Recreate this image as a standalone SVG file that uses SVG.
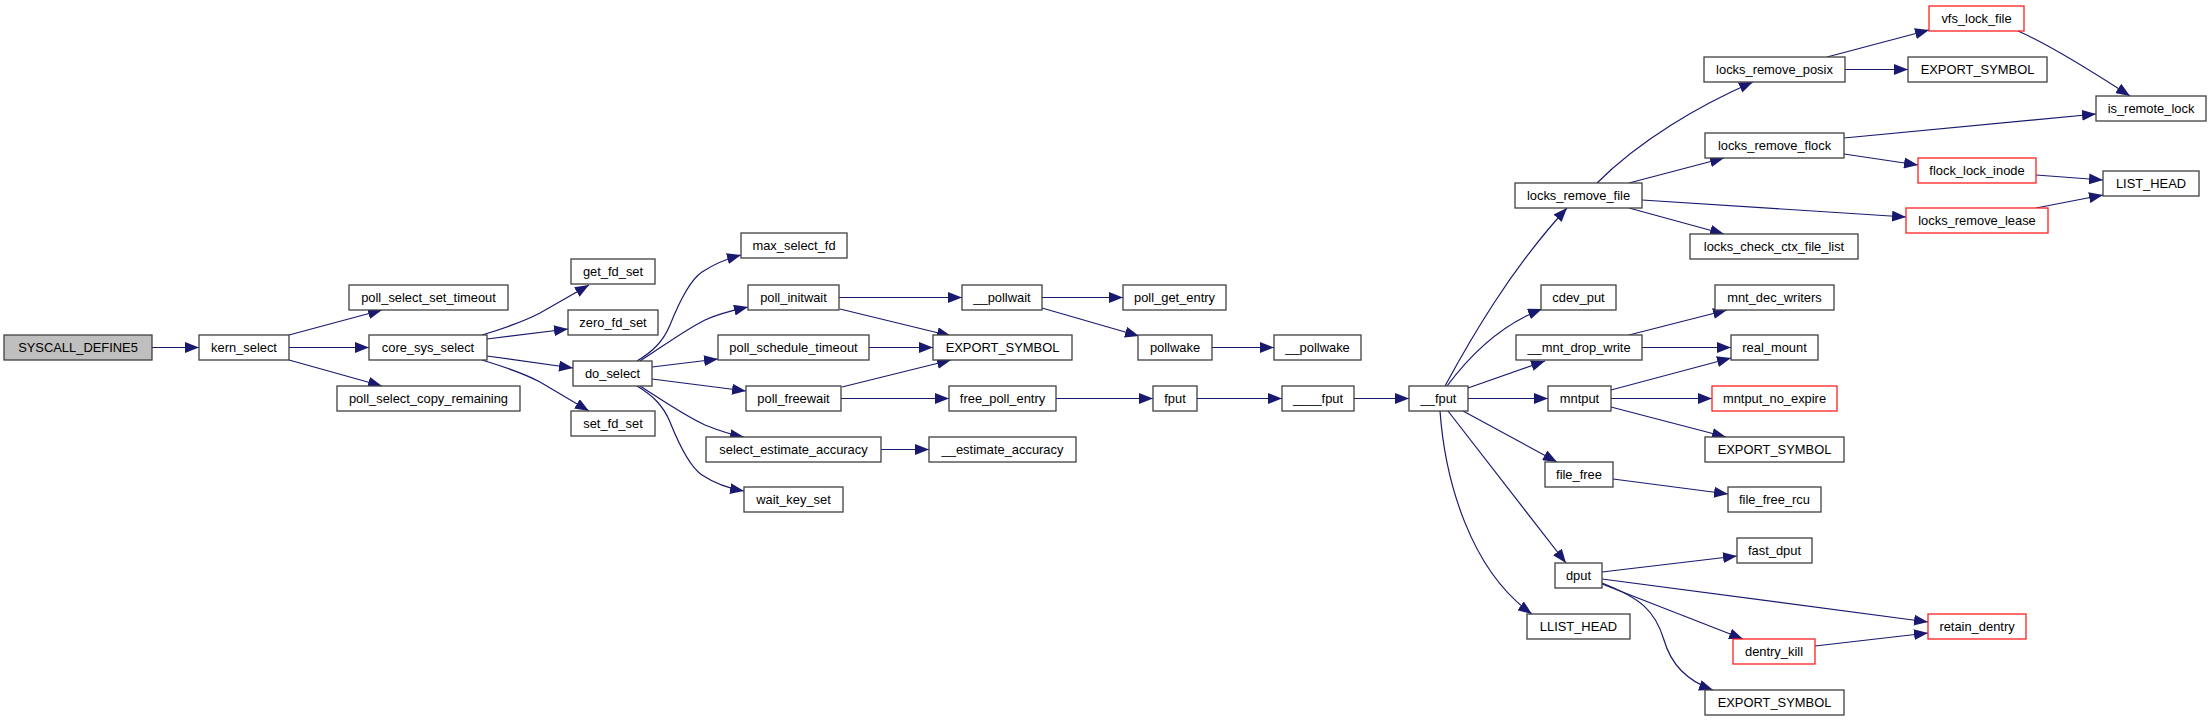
<svg xmlns="http://www.w3.org/2000/svg" width="2212" height="721" viewBox="0 0 2212 721">
<style>
.n rect{fill:#fff;stroke:#404040;stroke-width:1.3}
.n.g rect{fill:#bfbfbf}
.n.r rect{stroke:#ff2020}
.n text{font-family:"Liberation Sans",Arial,sans-serif;font-size:12.9px;text-anchor:middle;fill:#000}
#edges path{fill:none;stroke:#191970;stroke-width:1.2;marker-end:url(#a)}
</style>
<defs>
<marker id="a" markerUnits="userSpaceOnUse" markerWidth="14" markerHeight="11" viewBox="0 0 14 11" refX="14" refY="5.5" orient="auto">
<path d="M0,0 L14,5.5 L0,11 z" fill="#191970"/>
</marker>
</defs>
<rect width="2212" height="721" fill="#fff"/>
<g id="edges">
<path d="M152,347.5 L199,347.5"/>
<path d="M289,335 L382,310"/>
<path d="M289,347.5 L369,347.5"/>
<path d="M289,360 L382,386"/>
<path d="M482,335 C505,328 523,322 540,313 L589,285"/>
<path d="M487,339 L568,329"/>
<path d="M487,356 L573,368"/>
<path d="M482,360 C505,367 523,373 540,382 L589,411"/>
<path d="M637,361 C652,352 663,342 670,325 C680,300 690,280 702,272 C714,264 726,259 741,255"/>
<path d="M640,361 C665,345 685,330 705,320 C720,313 735,310 748,307"/>
<path d="M652,367 L718,359"/>
<path d="M652,379 L746,391"/>
<path d="M640,386 C665,402 685,416 705,425 C720,431 732,435 744,437"/>
<path d="M637,386 C652,395 663,405 670,422 C680,447 690,467 702,475 C714,483 726,488 744,491"/>
<path d="M839,297.5 L962,297.5"/>
<path d="M840,309 L951,336"/>
<path d="M869,347.5 L933,347.5"/>
<path d="M842,387 L951,360"/>
<path d="M841,398.5 L949,398.5"/>
<path d="M881,449.5 L929,449.5"/>
<path d="M1042,297.5 L1123,297.5"/>
<path d="M1042,308 L1139,336"/>
<path d="M1212,347.5 L1274,347.5"/>
<path d="M1056,398.5 L1153,398.5"/>
<path d="M1197,398.5 L1282,398.5"/>
<path d="M1354,398.5 L1409,398.5"/>
<path d="M1445,386 C1470,340 1510,270 1567,208"/>
<path d="M1447,386 C1470,355 1500,325 1542,309"/>
<path d="M1468,388 L1545,361"/>
<path d="M1468,398.5 L1548,398.5"/>
<path d="M1463,411 L1557,462"/>
<path d="M1448,411 L1566,563"/>
<path d="M1440,411 C1445,480 1470,570 1532,614"/>
<path d="M1597,183 C1640,140 1700,105 1753,82"/>
<path d="M1629,183 L1724,158"/>
<path d="M1642,200 L1906,217"/>
<path d="M1629,208 L1724,234"/>
<path d="M1827,57 L1929,30"/>
<path d="M1845,69.5 L1908,69.5"/>
<path d="M2018,31 C2050,45 2090,70 2130,96"/>
<path d="M1844,138 L2096,114"/>
<path d="M1844,154 L1918,165"/>
<path d="M2036,175 L2103,180"/>
<path d="M2036,208 L2103,195"/>
<path d="M1629,335 L1727,310"/>
<path d="M1642,347.5 L1731,347.5"/>
<path d="M1611,390 L1731,358"/>
<path d="M1611,398.5 L1712,398.5"/>
<path d="M1611,407 L1726,437"/>
<path d="M1613,479 L1728,494"/>
<path d="M1602,572 L1737,556"/>
<path d="M1602,579 L1928,622"/>
<path d="M1602,584 L1743,639"/>
<path d="M1602,583 C1640,598 1655,610 1664,640 C1672,668 1690,682 1713,690"/>
<path d="M1815,646 L1928,633"/>
</g>
<g id="n0" class="n g"><rect x="4" y="335" width="148" height="25"/><text x="78" y="352">SYSCALL_DEFINE5</text></g>
<g id="n1" class="n"><rect x="199" y="335" width="90" height="25"/><text x="244" y="352">kern_select</text></g>
<g id="n2" class="n"><rect x="349" y="285" width="159" height="25"/><text x="428.5" y="302">poll_select_set_timeout</text></g>
<g id="n3" class="n"><rect x="369" y="335" width="118" height="25"/><text x="428" y="352">core_sys_select</text></g>
<g id="n4" class="n"><rect x="337" y="386" width="183" height="25"/><text x="428.5" y="403">poll_select_copy_remaining</text></g>
<g id="n5" class="n"><rect x="571" y="259" width="84" height="25"/><text x="613" y="276">get_fd_set</text></g>
<g id="n6" class="n"><rect x="568" y="310" width="90" height="25"/><text x="613" y="327">zero_fd_set</text></g>
<g id="n7" class="n"><rect x="573" y="361" width="79" height="25"/><text x="612.5" y="378">do_select</text></g>
<g id="n8" class="n"><rect x="571" y="411" width="84" height="25"/><text x="613" y="428">set_fd_set</text></g>
<g id="n9" class="n"><rect x="741" y="233" width="106" height="25"/><text x="794" y="250">max_select_fd</text></g>
<g id="n10" class="n"><rect x="748" y="285" width="91" height="25"/><text x="793.5" y="302">poll_initwait</text></g>
<g id="n11" class="n"><rect x="718" y="335" width="151" height="25"/><text x="793.5" y="352">poll_schedule_timeout</text></g>
<g id="n12" class="n"><rect x="746" y="386" width="95" height="25"/><text x="793.5" y="403">poll_freewait</text></g>
<g id="n13" class="n"><rect x="706" y="437" width="175" height="25"/><text x="793.5" y="454">select_estimate_accuracy</text></g>
<g id="n14" class="n"><rect x="744" y="487" width="99" height="25"/><text x="793.5" y="504">wait_key_set</text></g>
<g id="n15" class="n"><rect x="962" y="285" width="80" height="25"/><text x="1002" y="302">__pollwait</text></g>
<g id="n16" class="n"><rect x="933" y="335" width="139" height="25"/><text x="1002.5" y="352">EXPORT_SYMBOL</text></g>
<g id="n17" class="n"><rect x="949" y="386" width="107" height="25"/><text x="1002.5" y="403">free_poll_entry</text></g>
<g id="n18" class="n"><rect x="929" y="437" width="147" height="25"/><text x="1002.5" y="454">__estimate_accuracy</text></g>
<g id="n19" class="n"><rect x="1123" y="285" width="103" height="25"/><text x="1174.5" y="302">poll_get_entry</text></g>
<g id="n20" class="n"><rect x="1138" y="335" width="74" height="25"/><text x="1175" y="352">pollwake</text></g>
<g id="n21" class="n"><rect x="1274" y="335" width="87" height="25"/><text x="1317.5" y="352">__pollwake</text></g>
<g id="n22" class="n"><rect x="1153" y="386" width="44" height="25"/><text x="1175" y="403">fput</text></g>
<g id="n23" class="n"><rect x="1282" y="386" width="72" height="25"/><text x="1318" y="403">____fput</text></g>
<g id="n24" class="n"><rect x="1409" y="386" width="59" height="25"/><text x="1438.5" y="403">__fput</text></g>
<g id="n25" class="n"><rect x="1515" y="183" width="127" height="25"/><text x="1578.5" y="200">locks_remove_file</text></g>
<g id="n26" class="n"><rect x="1541" y="285" width="75" height="25"/><text x="1578.5" y="302">cdev_put</text></g>
<g id="n27" class="n"><rect x="1516" y="335" width="126" height="25"/><text x="1579" y="352">__mnt_drop_write</text></g>
<g id="n28" class="n"><rect x="1548" y="386" width="63" height="25"/><text x="1579.5" y="403">mntput</text></g>
<g id="n29" class="n"><rect x="1545" y="462" width="68" height="25"/><text x="1579" y="479">file_free</text></g>
<g id="n30" class="n"><rect x="1555" y="563" width="47" height="25"/><text x="1578.5" y="580">dput</text></g>
<g id="n31" class="n"><rect x="1527" y="614" width="103" height="25"/><text x="1578.5" y="631">LLIST_HEAD</text></g>
<g id="n32" class="n"><rect x="1704" y="57" width="141" height="25"/><text x="1774.5" y="74">locks_remove_posix</text></g>
<g id="n33" class="n"><rect x="1705" y="133" width="139" height="25"/><text x="1774.5" y="150">locks_remove_flock</text></g>
<g id="n34" class="n r"><rect x="1906" y="208" width="142" height="25"/><text x="1977" y="225">locks_remove_lease</text></g>
<g id="n35" class="n"><rect x="1690" y="234" width="168" height="25"/><text x="1774" y="251">locks_check_ctx_file_list</text></g>
<g id="n36" class="n r"><rect x="1929" y="6" width="95" height="25"/><text x="1976.5" y="23">vfs_lock_file</text></g>
<g id="n37" class="n"><rect x="1908" y="57" width="139" height="25"/><text x="1977.5" y="74">EXPORT_SYMBOL</text></g>
<g id="n38" class="n"><rect x="2096" y="96" width="110" height="25"/><text x="2151" y="113">is_remote_lock</text></g>
<g id="n39" class="n r"><rect x="1918" y="158" width="118" height="25"/><text x="1977" y="175">flock_lock_inode</text></g>
<g id="n40" class="n"><rect x="2103" y="171" width="96" height="25"/><text x="2151" y="188">LIST_HEAD</text></g>
<g id="n41" class="n"><rect x="1715" y="285" width="119" height="25"/><text x="1774.5" y="302">mnt_dec_writers</text></g>
<g id="n42" class="n"><rect x="1731" y="335" width="87" height="25"/><text x="1774.5" y="352">real_mount</text></g>
<g id="n43" class="n r"><rect x="1712" y="386" width="125" height="25"/><text x="1774.5" y="403">mntput_no_expire</text></g>
<g id="n44" class="n"><rect x="1705" y="437" width="139" height="25"/><text x="1774.5" y="454">EXPORT_SYMBOL</text></g>
<g id="n45" class="n"><rect x="1728" y="487" width="93" height="25"/><text x="1774.5" y="504">file_free_rcu</text></g>
<g id="n46" class="n"><rect x="1737" y="538" width="75" height="25"/><text x="1774.5" y="555">fast_dput</text></g>
<g id="n47" class="n r"><rect x="1928" y="614" width="98" height="25"/><text x="1977" y="631">retain_dentry</text></g>
<g id="n48" class="n r"><rect x="1733" y="639" width="82" height="25"/><text x="1774" y="656">dentry_kill</text></g>
<g id="n49" class="n"><rect x="1705" y="690" width="139" height="25"/><text x="1774.5" y="707">EXPORT_SYMBOL</text></g>
</svg>
